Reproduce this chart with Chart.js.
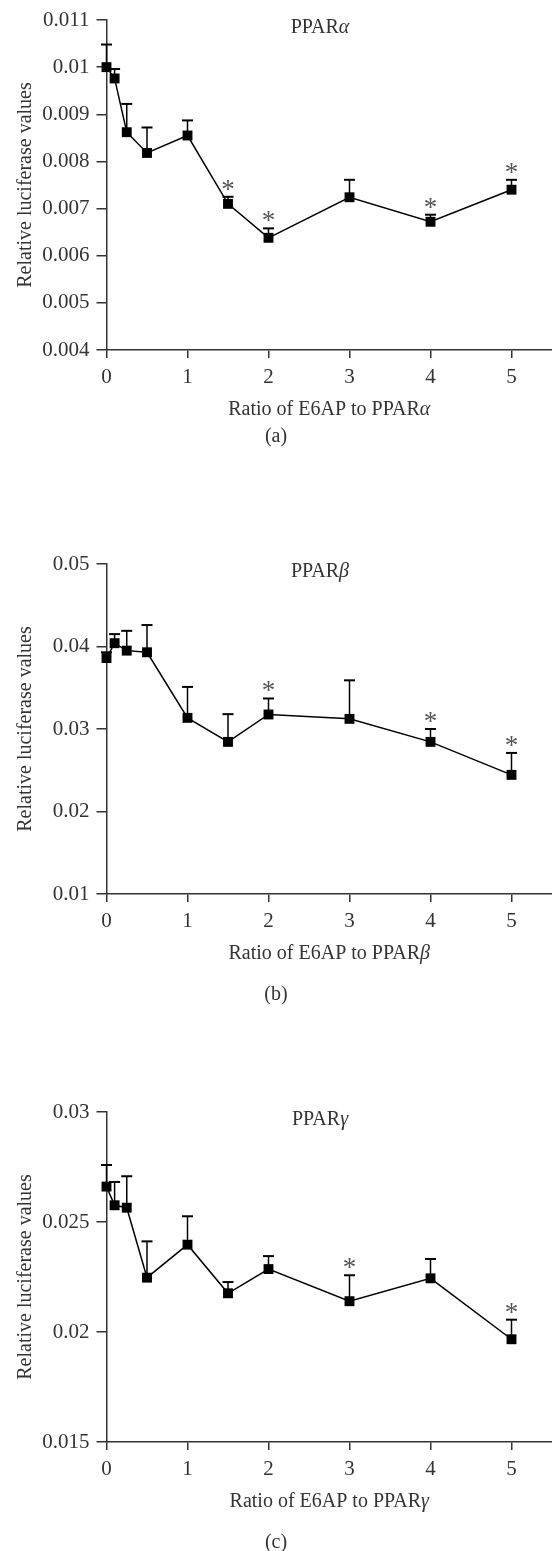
<!DOCTYPE html>
<html>
<head>
<meta charset="utf-8">
<script src="https://cdn.jsdelivr.net/npm/chart.js@4.4.0/dist/chart.umd.min.js"></script>
<style>
  html, body { margin: 0; padding: 0; background: #fff; overflow: hidden; }
  .panel { position: absolute; left: 0; width: 552px; height: 470px; }
</style>
</head>
<body>
<div class="panel" style="top:0px"><canvas id="chartA" width="552" height="470"></canvas></div>
<div class="panel" style="top:544px"><canvas id="chartB" width="552" height="470"></canvas></div>
<div class="panel" style="top:1092px"><canvas id="chartC" width="552" height="470"></canvas></div>
<script>
// --- Data ---
const ratios = [0, 0.1, 0.25, 0.5, 1, 1.5, 2, 3, 4, 5];
const xTickValues = [0, 1, 2, 3, 4, 5];

const alphaMeans = [0.01000, 0.00976, 0.00862, 0.00818, 0.00855, 0.00710, 0.00638, 0.00724, 0.00672, 0.00740];
const alphaUpper = [0.01048, 0.00996, 0.00922, 0.00872, 0.00887, 0.00725, 0.00658, 0.00761, 0.00687, 0.00761];
const alphaStars = [5, 6, 8, 9];
const alphaYTicks = [0.004, 0.005, 0.006, 0.007, 0.008, 0.009, 0.01, 0.011];

const betaMeans = [0.0386, 0.0404, 0.0395, 0.0393, 0.03135, 0.02844, 0.03176, 0.03123, 0.02844, 0.02444];
const betaUpper = [0.0393, 0.0415, 0.0419, 0.0426, 0.0351, 0.0318, 0.0337, 0.0359, 0.0300, 0.0271];
const betaStars = [6, 8, 9];
const betaYTicks = [0.01, 0.02, 0.03, 0.04, 0.05];

const gammaMeans = [0.02661, 0.02576, 0.02565, 0.02247, 0.02397, 0.02176, 0.02286, 0.02140, 0.02244, 0.01967];
const gammaUpper = [0.02759, 0.02682, 0.02708, 0.02412, 0.02526, 0.02227, 0.02345, 0.02258, 0.02332, 0.02056];
const gammaStars = [7, 9];
const gammaYTicks = [0.015, 0.02, 0.025, 0.03];

// --- Helpers ---
const FONT = '"Liberation Serif", "Times New Roman", serif';
const INK = '#333';

// draw a line of text made of upright / italic parts, centred on cx
const drawMixed = (ctx, parts, cx, cy, size) => {
    const fonts = parts.map(p => (p.italic ? 'italic ' : '') + size + 'px ' + FONT);
    const widths = parts.map((p, i) => { ctx.font = fonts[i]; return ctx.measureText(p.text).width; });
    let x = cx - widths.reduce((a, b) => a + b, 0) / 2;
    ctx.textAlign = 'left';
    parts.forEach((p, i) => {
        ctx.font = fonts[i];
        ctx.fillText(p.text, x, cy);
        x += widths[i];
    });
};

// error bars, asterisks, inner title, axis title and panel letter
const annotate = {
    id: 'annotate',
    beforeDatasetsDraw(chart, args, opts) {
        const { ctx, scales: { x, y } } = chart;
        ctx.save();
        ctx.strokeStyle = '#000';
        opts.upper.forEach((u, i) => {
            const px = x.getPixelForValue(ratios[i]);
            const py = y.getPixelForValue(opts.means[i]);
            const pu = y.getPixelForValue(u);
            ctx.lineWidth = 1.5;
            ctx.beginPath(); ctx.moveTo(px, py); ctx.lineTo(px, pu); ctx.stroke();
            ctx.lineWidth = 2;
            ctx.beginPath(); ctx.moveTo(px - 5.5, pu); ctx.lineTo(px + 5.5, pu); ctx.stroke();
        });
        ctx.restore();
    },
    afterDraw(chart, args, opts) {
        const { ctx, chartArea, scales: { x, y } } = chart;
        ctx.save();
        ctx.fillStyle = '#555';
        ctx.font = '27px ' + FONT;
        ctx.textAlign = 'center';
        ctx.textBaseline = 'alphabetic';
        opts.stars.forEach(i => {
            ctx.fillText('*', x.getPixelForValue(ratios[i]), y.getPixelForValue(opts.upper[i]) + 1);
        });

        ctx.fillStyle = INK;
        ctx.textBaseline = 'middle';
        drawMixed(ctx, [{ text: 'PPAR' }, { text: opts.greek, italic: true }], 320, chartArea.top + 8, 20);
        drawMixed(ctx, [{ text: 'Ratio of E6AP to PPAR' }, { text: opts.greek, italic: true }],
            (chartArea.left + chartArea.right) / 2, chartArea.bottom + 59.5, 20);
        ctx.textAlign = 'center';
        ctx.font = '20px ' + FONT;
        ctx.fillText(opts.letter, 276, chartArea.bottom + opts.letterOffset);
        ctx.restore();
    }
};

const makePanel = (id, means, upper, stars, yTicks, greek, letter, letterOffset) => {
    const ctx = document.getElementById(id).getContext('2d');
    return new Chart(ctx, {
        type: 'line',
        data: {
            datasets: [{
                data: ratios.map((r, i) => ({ x: r, y: means[i] })),
                borderColor: '#000',
                borderWidth: 1.5,
                backgroundColor: '#000',
                pointStyle: 'rect',
                pointRadius: 7,
                pointHoverRadius: 7,
                pointBorderWidth: 0,
                tension: 0,
                clip: false
            }]
        },
        options: {
            responsive: false,
            animation: false,
            events: [],
            layout: { autoPadding: false, padding: { top: 20, right: 0, bottom: 0, left: 0 } },
            plugins: {
                legend: { display: false },
                tooltip: { enabled: false },
                annotate: { means, upper, stars, greek, letter, letterOffset }
            },
            scales: {
                x: {
                    type: 'linear',
                    min: 0,
                    max: 5.5,
                    afterBuildTicks: s => { s.ticks = xTickValues.map(v => ({ value: v })); },
                    afterFit: s => { s.height = 120; s.paddingLeft = 0; s.paddingRight = 0; },
                    grid: { drawOnChartArea: false, drawTicks: true, tickLength: 8, tickColor: INK, lineWidth: 1.5 },
                    border: { display: true, color: INK, width: 1.5 },
                    ticks: { color: INK, padding: 7, font: { family: FONT, size: 21 }, callback: v => String(v) }
                },
                y: {
                    type: 'linear',
                    min: yTicks[0],
                    max: yTicks[yTicks.length - 1],
                    afterBuildTicks: s => { s.ticks = yTicks.map(v => ({ value: v })); },
                    afterFit: s => { s.width = 106.5; },
                    grid: { drawOnChartArea: false, drawTicks: true, tickLength: 10, tickColor: INK, lineWidth: 1.5 },
                    border: { display: true, color: INK, width: 1.5 },
                    ticks: { color: INK, padding: 7, font: { family: FONT, size: 21 }, callback: v => String(parseFloat(v.toFixed(4))) },
                    title: {
                        display: true,
                        text: 'Relative luciferase values',
                        color: INK,
                        font: { family: FONT, size: 20 },
                        padding: { top: 14, bottom: 0 }
                    }
                }
            }
        },
        plugins: [annotate]
    });
};

makePanel('chartA', alphaMeans, alphaUpper, alphaStars, alphaYTicks, 'α', '(a)', 86.7);
makePanel('chartB', betaMeans, betaUpper, betaStars, betaYTicks, 'β', '(b)', 100.5);
makePanel('chartC', gammaMeans, gammaUpper, gammaStars, gammaYTicks, 'γ', '(c)', 100.4);
</script>
</body>
</html>
